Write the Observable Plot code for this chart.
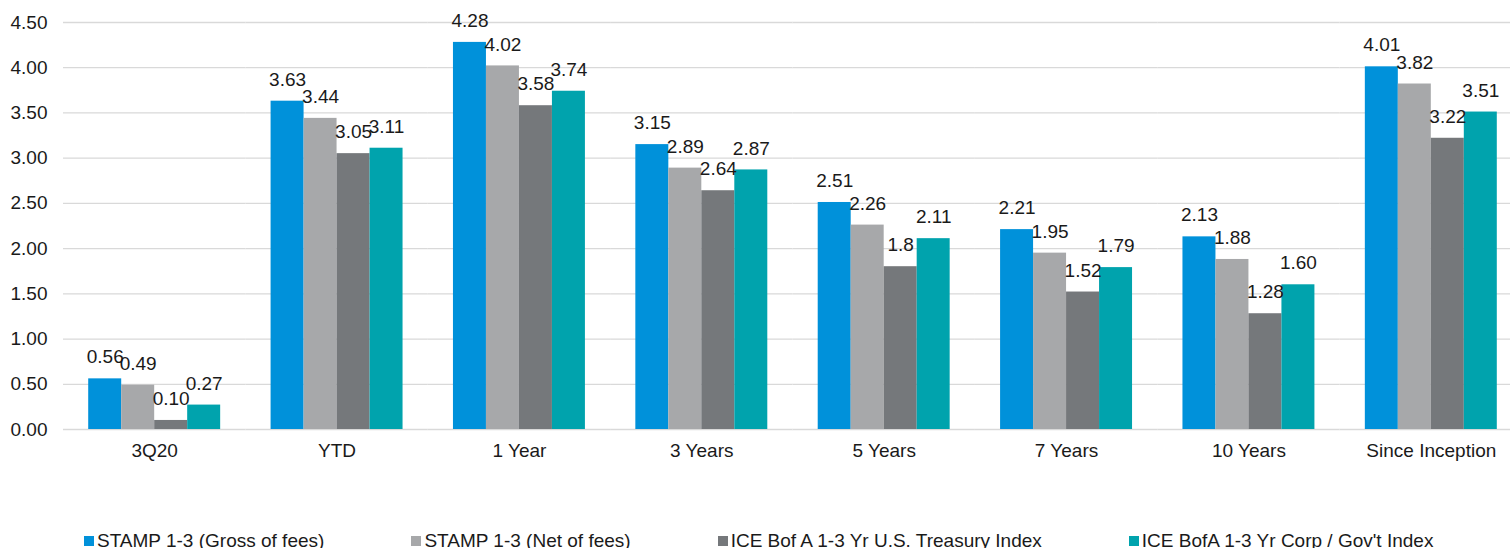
<!DOCTYPE html>
<html>
<head>
<meta charset="utf-8">
<script src="https://cdn.jsdelivr.net/npm/d3@7"></script>
<script src="https://cdn.jsdelivr.net/npm/@observablehq/plot@0.6"></script>
<style>
  html, body { margin: 0; padding: 0; background: #fff; width: 1510px; height: 548px; overflow: hidden; }
  body { font-family: "Liberation Sans", Arial, sans-serif; position: relative; }
  #chart { position: absolute; left: 0; top: 0; }
  #legend { position: absolute; left: 84px; top: 531px; display: flex; font-size: 19px; line-height: 19px; color: #1a1a1a; white-space: nowrap; }
  .item { display: flex; align-items: flex-start; flex-shrink: 0; margin-right: 87px; }
  .sw { width: 10px; height: 10px; margin-right: 3px; margin-top: 5px; flex-shrink: 0; }
</style>
</head>
<body>
<div id="chart"></div>
<div id="legend"></div>
<script>
const categories = ["3Q20", "YTD", "1 Year", "3 Years", "5 Years", "7 Years", "10 Years", "Since Inception"];
const seriesNames = ["STAMP 1-3 (Gross of fees)", "STAMP 1-3 (Net of fees)", "ICE Bof A 1-3 Yr U.S. Treasury Index", "ICE BofA 1-3 Yr Corp / Gov't Index"];
const seriesColors = ["#0091DA", "#A7A8AA", "#75787B", "#00A3AD"];
const gross    = [0.56, 3.63, 4.28, 3.15, 2.51, 2.21, 2.13, 4.01];
const net      = [0.49, 3.44, 4.02, 2.89, 2.26, 1.95, 1.88, 3.82];
const treasury = [0.10, 3.05, 3.58, 2.64, 1.80, 1.52, 1.28, 3.22];
const corpGov  = [0.27, 3.11, 3.74, 2.87, 2.11, 1.79, 1.60, 3.51];
const grossLabels    = ["0.56", "3.63", "4.28", "3.15", "2.51", "2.21", "2.13", "4.01"];
const netLabels      = ["0.49", "3.44", "4.02", "2.89", "2.26", "1.95", "1.88", "3.82"];
const treasuryLabels = ["0.10", "3.05", "3.58", "2.64", "1.8", "1.52", "1.28", "3.22"];
const corpGovLabels  = ["0.27", "3.11", "3.74", "2.87", "2.11", "1.79", "1.60", "3.51"];
const yTicks = [0, 0.5, 1, 1.5, 2, 2.5, 3, 3.5, 4, 4.5];

const valueSets = [gross, net, treasury, corpGov];
const labelSets = [grossLabels, netLabels, treasuryLabels, corpGovLabels];
const data = [];
categories.forEach((c, i) => {
  seriesNames.forEach((s, j) => {
    data.push({category: c, series: s, value: valueSets[j][i], label: labelSets[j][i]});
  });
});

const chart = Plot.plot({
  width: 1522,
  height: 470,
  marginLeft: 63,
  marginRight: 0,
  marginTop: 22,
  marginBottom: 41,
  style: {fontFamily: "'Liberation Sans', Arial, sans-serif", fontSize: "19px", color: "#1a1a1a", background: "#fff", overflow: "visible", maxWidth: "none"},
  fx: {domain: categories, paddingInner: 0, paddingOuter: 0, round: false, label: null},
  x: {domain: seriesNames, paddingInner: 0, paddingOuter: 0.764, round: false, axis: null},
  y: {domain: [0, 4.5], label: null},
  color: {domain: seriesNames, range: seriesColors},
  marks: [
    Plot.ruleY(yTicks, {stroke: "#d9d9d9", strokeWidth: 1.3, strokeOpacity: 1}),
    Plot.axisY({ticks: yTicks, tickFormat: d3.format(".2f"), tickSize: 0, tickPadding: 16, label: null, fontSize: 19}),
    Plot.axisFx({anchor: "bottom", tickSize: 0, tickPadding: 14, label: null, fontSize: 19}),
    Plot.barY(data, {fx: "category", x: "series", y: "value", fill: "series"}),
    Plot.text(data, {fx: "category", x: "series", y: "value", text: "label", dy: -21.5, fill: "#1a1a1a", fontSize: 19})
  ]
});
chart.style.maxWidth = "none";
chart.setAttribute("width", 1522);
document.getElementById("chart").appendChild(chart);

const legend = document.getElementById("legend");
seriesNames.forEach((s, j) => {
  const item = document.createElement("div");
  item.className = "item";
  const sw = document.createElement("span");
  sw.className = "sw";
  sw.style.background = seriesColors[j];
  const t = document.createElement("span");
  t.textContent = s;
  item.appendChild(sw);
  item.appendChild(t);
  legend.appendChild(item);
});
</script>
</body>
</html>
